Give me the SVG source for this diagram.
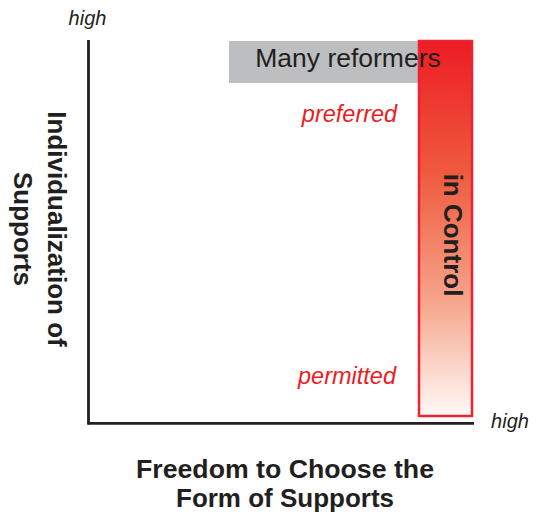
<svg xmlns="http://www.w3.org/2000/svg" width="539" height="517" viewBox="0 0 539 517">
<style>
  text { font-family: "Liberation Sans", Arial, sans-serif; fill: #231f20; }
  .bold { font-weight: bold; font-size: 26px; }
  .axis { stroke: #231f20; stroke-width: 2.8; fill: none; }
  .red { fill: #ed1c24; font-style: italic; font-size: 23.5px; }
  .high { font-style: italic; font-size: 20px; }
</style>
<defs>
  <linearGradient id="redgrad" x1="0" y1="0" x2="0" y2="1">
    <stop offset="0" stop-color="#ed1c24"/>
    <stop offset="0.35" stop-color="#ef5a3e"/>
    <stop offset="0.7" stop-color="#f6a68c"/>
    <stop offset="1" stop-color="#fffaf8"/>
  </linearGradient>
</defs>
<rect width="539" height="517" fill="#ffffff"/>
<g id="axes">
  <line class="axis" x1="88.5" y1="40" x2="88.5" y2="424.5"/>
  <line class="axis" x1="87.5" y1="423.3" x2="474" y2="423.3"/>
</g>
<g id="many-reformers">
  <rect x="229" y="41" width="195" height="42" fill="#bcbec0"/>
</g>
<g id="in-control">
  <rect x="419" y="41" width="53" height="375" fill="url(#redgrad)" stroke="#ee2233" stroke-width="2.5"/>
  <text class="bold" transform="translate(443.5,235) rotate(90)" text-anchor="middle" font-size="27">in Control</text>
</g>
<g id="many-reformers-label">
  <text x="348" y="67" text-anchor="middle" font-size="26.5">Many reformers</text>
</g>
<g id="preferred">
  <text class="red" x="349.5" y="122" text-anchor="middle">preferred</text>
</g>
<g id="permitted">
  <text class="red" x="347" y="384" text-anchor="middle">permitted</text>
</g>
<g id="labels">
  <text class="high" x="87.5" y="25" text-anchor="middle">high</text>
  <text class="high" x="510" y="428" text-anchor="middle">high</text>
  <text class="bold" transform="translate(48,229) rotate(90)" text-anchor="middle" font-size="27">Individualization of</text>
  <text class="bold" transform="translate(14,229) rotate(90)" text-anchor="middle" font-size="27">Supports</text>
  <text class="bold" x="285" y="478" text-anchor="middle" textLength="298" lengthAdjust="spacingAndGlyphs">Freedom to Choose the</text>
  <text class="bold" x="285" y="507" text-anchor="middle" textLength="218" lengthAdjust="spacingAndGlyphs">Form of Supports</text>
</g>
</svg>
